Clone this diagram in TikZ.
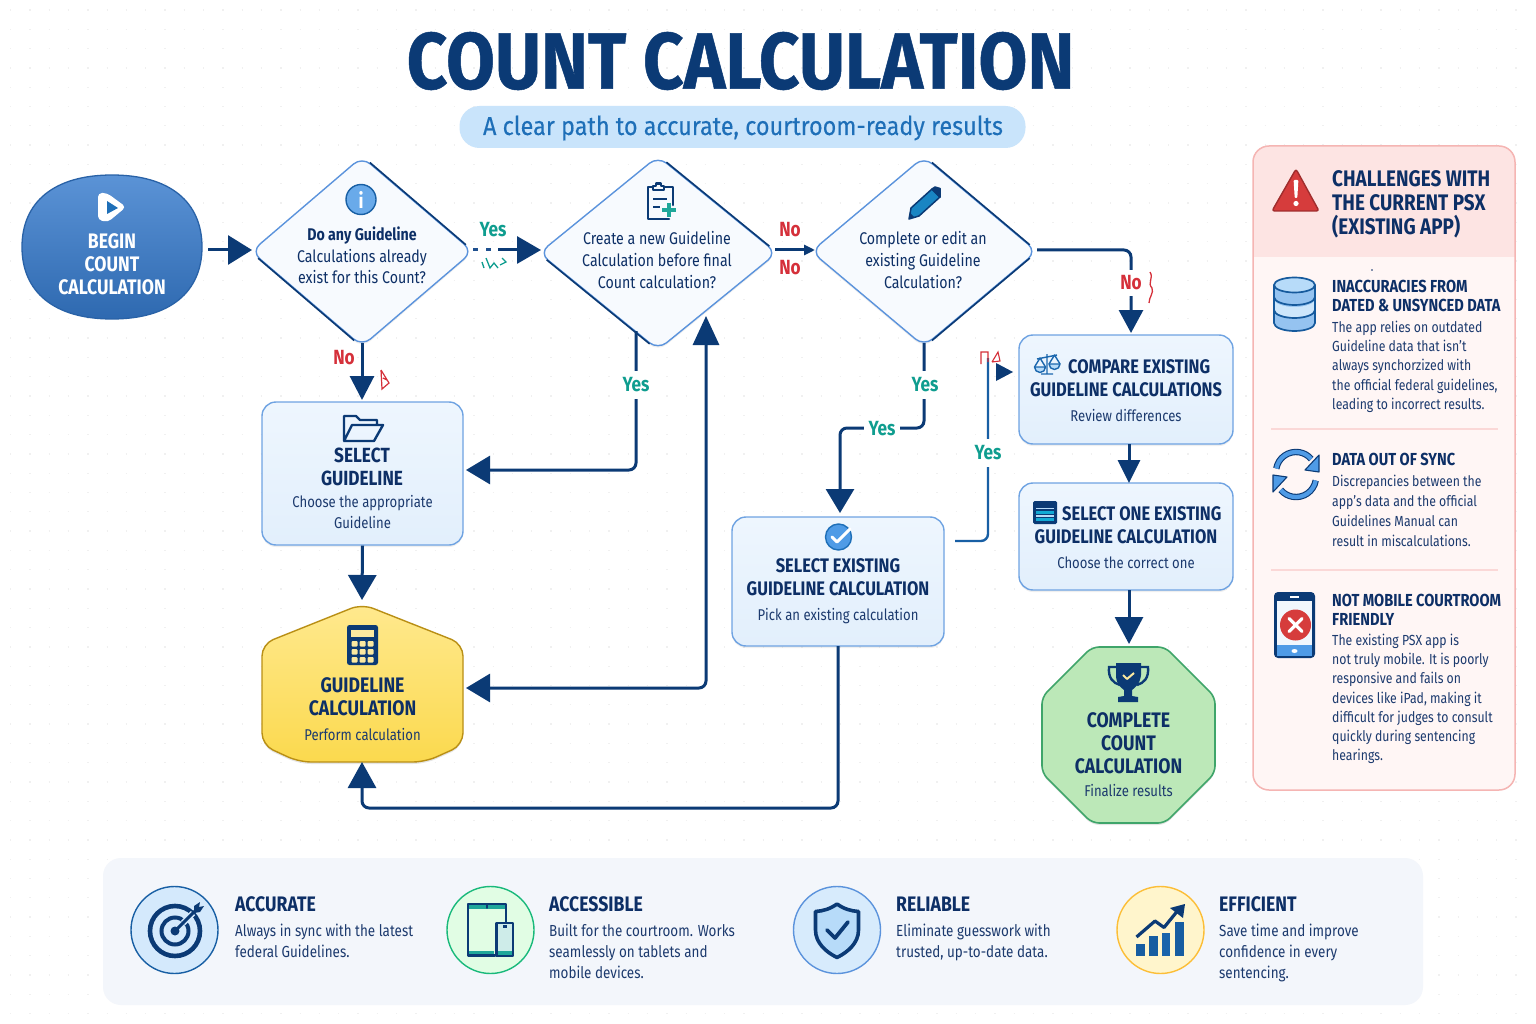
\documentclass[tikz,border=0pt]{standalone}
\usepackage{fontspec}
\setmainfont{Fira Sans}[FakeStretch=0.84]
\newfontfamily\titlefont{Fira Sans}[FakeStretch=0.885,BoldFeatures={FakeBold=0.6}]
\newfontfamily\subfont{Fira Sans}[FakeStretch=0.9,FakeBold=0.25]
\usetikzlibrary{arrows.meta,shapes.geometric,shadows,calc}
\definecolor{navy}{HTML}{0B3A75}
\definecolor{ink}{HTML}{0D2F66}
\definecolor{bodyink}{HTML}{1C3A6E}
\definecolor{midblue}{HTML}{5B93DC}
\definecolor{boxedge}{HTML}{6FA3E2}
\definecolor{boxtop}{HTML}{EEF6FE}
\definecolor{boxbot}{HTML}{E2EFFC}
\definecolor{yescol}{HTML}{0F9D8F}
\definecolor{nocol}{HTML}{D5303A}
\definecolor{pillcol}{HTML}{C9E4FB}
\definecolor{subcol}{HTML}{1E6FB8}
\definecolor{panelbg}{HTML}{FFF6F5}
\definecolor{panelhead}{HTML}{FDE4E3}
\definecolor{paneledge}{HTML}{F5B5B3}
\definecolor{alertred}{HTML}{D63C3C}
\definecolor{strip}{HTML}{F3F6FB}
\definecolor{iconblue}{HTML}{4F9BE6}
\definecolor{iconpale}{HTML}{B7DBF9}
\definecolor{teal}{HTML}{1FA79A}
\definecolor{diafill}{HTML}{F7FAFE}
\definecolor{begintop}{HTML}{5B93D6}
\definecolor{beginbot}{HTML}{2E69B0}
\definecolor{calctop}{HTML}{FFE98E}
\definecolor{calcbot}{HTML}{FBD94E}
\definecolor{calcedge}{HTML}{B98F15}
\definecolor{octfill}{HTML}{BCE8B8}
\definecolor{octedge}{HTML}{3FA56A}
\definecolor{keycol}{HTML}{FBE9A0}
\tikzset{
  conn/.style={draw=navy,line width=3pt,rounded corners=7pt},
  bighead/.style={-{Triangle[length=24pt,width=28pt]}},
  dia/.style={shape=diamond,draw=midblue,line width=1.4pt,fill=diafill,inner sep=0pt,rounded corners=11pt,drop shadow={opacity=0.12,shadow xshift=0pt,shadow yshift=-2pt}},
  dark/.style={draw=navy,line width=1.6pt},
  procbox/.style={shape=rectangle,draw=boxedge,line width=1.4pt,top color=boxtop,bottom color=boxbot,rounded corners=14pt,inner sep=0pt,drop shadow={opacity=0.12,shadow xshift=0pt,shadow yshift=-2pt}},
  bhead/.style={font=\bfseries\fontsize{19.6}{23}\selectfont,text=ink,align=center,inner sep=0pt},
  bheadl/.style={font=\bfseries\fontsize{21}{23}\selectfont,text=ink,align=center,inner sep=0pt},
  bsub/.style={font=\fontsize{15.6}{21}\selectfont,text=bodyink,align=center,inner sep=0pt},
  dtext/.style={font=\fontsize{16.9}{21.7}\selectfont,text=ink,align=center,inner sep=0pt},
  yeslab/.style={font=\bfseries\fontsize{20.5}{23}\selectfont,text=yescol,fill=white,inner xsep=5pt,inner ysep=7pt},
  nolab/.style={font=\bfseries\fontsize{20.5}{23}\selectfont,text=nocol,fill=white,inner xsep=2pt,inner ysep=6pt},
  phead/.style={font=\bfseries\fontsize{17.4}{19.7}\selectfont,text=ink,align=left,anchor=north west,inner sep=0pt},
  pbody/.style={font=\fontsize{14.6}{19.2}\selectfont,text=bodyink,align=left,anchor=north west,inner sep=0pt},
  shead/.style={font=\bfseries\fontsize{21}{23}\selectfont,text=ink,anchor=west,inner sep=0pt},
  sbody/.style={font=\fontsize{16}{21}\selectfont,text=bodyink,align=left,anchor=north west,inner sep=0pt},
  badge/.style={shape=circle,minimum size=87pt,inner sep=0pt,line width=1.4pt},
  icon/.style={draw=navy,line width=2.6pt,line join=round,line cap=round},
}
\begin{document}
\begin{tikzpicture}[x=1pt,y=-1pt]
\useasboundingbox (0,0) rectangle (1536,1024);
\fill[white] (0,0) rectangle (1536,1024);
% faint dotted ground
\foreach \j in {0,...,52}{\draw[black!6,line width=1.3pt,dash pattern=on 1.3pt off 18pt] (10,10+\j*19.3) -- (1530,10+\j*19.3);}

% title
\node[inner sep=0pt,text=navy,font=\titlefont\bfseries\fontsize{80}{84}\selectfont] (title) at (740.5,61) {COUNT CALCULATION};
\node[shape=rectangle,fill=pillcol,rounded corners=20pt,minimum width=566pt,minimum height=42pt,inner sep=0pt] (pill) at (742.5,127) {};
\node[text=subcol,inner sep=0pt,font=\subfont\fontsize{26}{30}\selectfont] (subt) at (743,128) {A clear path to accurate, courtroom-ready results};

% flow nodes
\node[shape=rectangle,minimum width=180pt,minimum height=144pt,inner sep=0pt] (begin) at (112,247) {};
\path[draw=beginbot!85!navy,line width=1.3pt,top color=begintop,bottom color=beginbot] (112,175) .. controls (170,175) and (202,202) .. (202,247) .. controls (202,292) and (170,319) .. (112,319) .. controls (54,319) and (22,292) .. (22,247) .. controls (22,202) and (54,175) .. (112,175) -- cycle;
\node[dia,minimum width=222pt,minimum height=190pt] (d1) at (362,251.5) {};
\node[dia,minimum width=238pt,minimum height=194pt] (d2) at (658,253) {};
\node[dia,minimum width=226pt,minimum height=190pt] (d3) at (924,251.5) {};
\foreach \n/\a/\b in {d1/north/east,d1/west/south,d2/north/east,d2/west/south,d3/north/east,d3/south/east}{
  \draw[dark] ($(\n.\a)!0.07!(\n.\b)$) -- ($(\n.\a)!0.93!(\n.\b)$);
}
\node[procbox,minimum width=201pt,minimum height=143pt] (selg) at (362.5,473.5) {};
\node[procbox,minimum width=212pt,minimum height=129pt] (selex) at (838,581.5) {};
\node[procbox,minimum width=214pt,minimum height=109pt] (comp) at (1126,389.5) {};
\node[procbox,minimum width=214pt,minimum height=107pt] (selone) at (1126,536.5) {};

% hexagon-like calculation node
\coordinate (calcN) at (362,600);
\coordinate (calcS) at (362,762);
\coordinate (calcE) at (466,688);
\fill[black,opacity=0.1,rounded corners=12pt,yshift=-2pt] (362,604)--(463,644)--(463,745)--(425,762)--(299,762)--(262,745)--(262,644)--cycle;
\path[draw=calcedge,line width=1.4pt,top color=calctop,bottom color=calcbot,rounded corners=12pt] (362,604)--(463,644)--(463,745)--(425,762)--(299,762)--(262,745)--(262,644)--cycle;
% octagon end node
\coordinate (octN) at (1129,644);
\fill[black,opacity=0.1,rounded corners=7pt,yshift=-2pt] (1092,647)--(1165,647)--(1215,697)--(1215,773)--(1165,823)--(1092,823)--(1042,773)--(1042,697)--cycle;
\path[draw=octedge,line width=1.6pt,fill=octfill,rounded corners=7pt] (1092,647)--(1165,647)--(1215,697)--(1215,773)--(1165,823)--(1092,823)--(1042,773)--(1042,697)--cycle;

% connectors
\coordinate (d1in) at (252,250);
\coordinate (bout) at (208,250);
\draw[conn,-{Triangle[length=24pt,width=29pt]}] (bout) -- (d1in);
\coordinate (d1r) at (473,250);
\coordinate (d1m) at (498,250);
\coordinate (d2in) at (541,250);
\draw[draw=navy!75!midblue,line width=3pt,dash pattern=on 5pt off 8pt] (d1r) -- (d1m);
\draw[conn,-{Triangle[length=24pt,width=27pt]}] (d1m) -- (d2in);
\coordinate (d1b) at (362,343);
\coordinate (selgT) at (362,400);
\draw[conn,-{Triangle[length=24pt,width=24pt]}] (d1b) -- (selgT);
\coordinate (d2r) at (775,250);
\coordinate (d3in) at (815,250);
\draw[conn,-{Triangle[length=11pt,width=10pt]}] (d2r) -- (d3in);
\coordinate (d2b) at (636,331);
\coordinate (selgR) at (466,470);
\draw[conn,bighead] (d2b) |- (selgR);
\coordinate (d2in2) at (706,316);
\draw[conn,{Triangle[length=24pt,width=28pt]}-{Triangle[length=29pt,width=26pt]}] (calcE) -| (d2in2);
\draw[conn,-{Triangle[length=25pt,width=28pt]}] (selg.south) -- (calcN);
\coordinate (selexB) at (838,646);
\coordinate (calcB) at (362,762);
\draw[conn,-{Triangle[length=26pt,width=28pt]}] (selexB) -- (838,808) -- (362,808) -- (calcB);
\coordinate (d3b) at (924,343);
\coordinate (selexT) at (840,513);
\draw[conn,bighead] (d3b) -- (924,428) -- (840,428) -- (selexT);
\coordinate (d3r) at (1037,250);
\coordinate (compT) at (1131,333);
\draw[conn,-{Triangle[length=23pt,width=24pt]}] (d3r) -- (1131,250) -- (compT);
\coordinate (selexR) at (955,541);
\coordinate (compL) at (1013,372);
\draw[draw=subcol!70!navy,line width=2.4pt,rounded corners=7pt] (selexR) -- (988,541) -- (988,358);
\draw[draw=none,fill=navy] (compL) -- (996,363) -- (996,381) -- cycle;
\coordinate (compB) at (1129,444);
\coordinate (seloneT) at (1129,483);
\draw[conn,-{Triangle[length=23pt,width=22pt]}] (compB) -- (seloneT);
\coordinate (seloneB) at (1129,590);
\draw[conn,-{Triangle[length=27pt,width=28pt]}] (seloneB) -- (octN);

% connector labels
\node[yeslab,fill=none] (y1) at (493,230) {Yes};
\node[nolab] (n1) at (344,358) {No};
\node[nolab,fill=none] (n2) at (790,230) {No};
\node[nolab,fill=none] (n3) at (790,268) {No};
\node[yeslab] (y2) at (636,385) {Yes};
\node[yeslab] (y3) at (925,385) {Yes};
\node[yeslab,inner ysep=2pt] (y4) at (882,429) {Yes};
\node[yeslab] (y5) at (988,453) {Yes};
\node[nolab] (n4) at (1131,283) {No};

% stray marks printed beside some labels
\draw[yescol,line width=1.3pt] (482,262)--(484,268) (486,258)--(490,268)--(494,263)--(498,268) (500,265)--(506,262)--(502,258);
\draw[nocol,line width=1.2pt] (381,370)--(389,383)--(382,389)--(381,370) (383,378)--(387,380);
\draw[nocol,line width=1.3pt] (1150,272) .. controls (1154,278) and (1147,283) .. (1152,288) .. controls (1154,293) and (1149,297) .. (1149,303);
\draw[nocol,line width=1.1pt] (981,364)--(981,352)--(988,352)--(988,362) (992,362)--(998,352)--(1000,361)--(992,362);

% begin
\path[fill=white,rounded corners=4pt] (98,193)--(107,193)--(126,207)--(108,222)--(98,220)--cycle;
\fill[subcol] (107,201)--(118,208)--(107,214)--cycle;
\node[bheadl,text=white] (tbegin) at (112,264) {BEGIN\\COUNT\\CALCULATION};

% d1
\node[shape=circle,draw=subcol!70!navy,line width=1.4pt,fill=iconblue!85!white,minimum size=30pt,inner sep=0pt,text=white,font=\bfseries\fontsize{21}{21}\selectfont] (infoic) at (361,199.5) {i};
\node[dtext] (td1) at (362,255.5) {\textbf{Do any Guideline}\\Calculations already\\exist for this Count?};
% d2
\draw[icon] (664,187)--(673,187)--(673,205) (669,219)--(648,219)--(648,187)--(653,187);
\draw[icon] (653,190)--(653,186)--(656,186)--(656,183.5)--(661,183.5)--(661,186)--(664,186)--(664,190)--cycle;
\draw[navy,line width=2.4pt] (653,199)--(667,199) (653,207)--(660,207);
\draw[teal,line width=3.6pt] (669,203)--(669,217) (662,210)--(676,210);
\node[dtext] (td2) at (657,260) {Create a new Guideline\\Calculation before final\\Count calculation?};
% d3
\draw[navy,line width=1.5pt,fill=subcol!85!cyan,line join=round] (909,219)--(911,208)--(932,189)--(940,197)--(919,216)--cycle;
\draw[navy,line width=1.5pt,fill=navy,line join=round] (932,189) -- (935,187) -- (940,188.5) -- (940,194) -- (940,197) --cycle;
\fill[navy] (909,219)--(910,213)--(914,217)--cycle;
\node[dtext] (td3) at (923,260) {Complete or edit an\\existing Guideline\\Calculation?};
% selg
\draw[icon,line width=2.4pt] (344,441)--(344,416)--(356,416)--(360,420)--(377,420)--(377,425) (344,441)--(374,441)--(383,425)--(352,425)--(344,441);
\node[bhead,font=\bfseries\fontsize{20.5}{23}\selectfont] (tselg) at (362,467) {SELECT\\GUIDELINE};
\node[bsub] (sselg) at (362.5,512.5) {Choose the appropriate\\Guideline};
% calc
\fill[navy,rounded corners=2.5pt] (347,625) rectangle (378,665);
\fill[keycol] (351,630) rectangle (374,636.5);
\foreach \xx in {351.5,359.5,367.5}\foreach \yy in {641,649,657}{\fill[keycol,rounded corners=1pt] (\xx,\yy) rectangle +(6,5.5);}
\node[bheadl] (tcalc) at (362.5,696.5) {GUIDELINE\\CALCULATION};
\node[bsub] (scalc) at (362.5,735) {Perform calculation};
% selex
\node[shape=circle,draw=subcol,line width=1.4pt,fill=iconblue,minimum size=26pt,inner sep=0pt] (okic) at (838.5,537) {};
\draw[white,line width=3pt,line cap=round,line join=round] (832,537)--(837,542)--(850,529);
\node[bhead] (tselex) at (838,577.5) {SELECT EXISTING\\GUIDELINE CALCULATION};
\node[bsub] (sselex) at (838,616) {Pick an existing calculation};
% compare
\begin{scope}[draw=subcol!85!navy,line width=1.4pt,fill=iconpale,line join=round]
\draw (1047,354)--(1047,373) (1037,359)--(1057,355) (1041,374)--(1053,374);
\filldraw (1034.5,367) arc[start angle=180,end angle=0,radius=5.5] --cycle;
\filldraw (1049,364) arc[start angle=180,end angle=0,radius=5.5] --cycle;
\draw (1034.5,367)--(1040,358)--(1045.5,367) (1049,364)--(1054.5,355)--(1060,364);
\end{scope}
\node[bhead,anchor=west] (tcomp1) at (1068,367) {COMPARE EXISTING};
\node[bhead] (tcomp2) at (1126,390) {GUIDELINE CALCULATIONS};
\node[bsub] (scomp) at (1126,416) {Review differences};
% select one
\fill[navy,rounded corners=1.5pt] (1033,501) rectangle (1057,524);
\fill[iconpale] (1036,507.5) rectangle (1054,509);
\fill[subcol!60!cyan] (1036,511) rectangle (1054,514);
\fill[iconpale] (1036,515) rectangle (1054,516.5);
\fill[subcol!60!cyan] (1036,518) rectangle (1054,521);
\node[bhead,anchor=west] (tone1) at (1062,514) {SELECT ONE EXISTING};
\node[bhead] (tone2) at (1126,537) {GUIDELINE CALCULATION};
\node[bsub] (sone) at (1126,563) {Choose the correct one};
% trophy
\draw[navy,line width=2.4pt] (1116,667)--(1109,667) .. controls (1108,678) and (1113,683) .. (1120,685);
\draw[navy,line width=2.4pt] (1141,667)--(1148,667) .. controls (1149,678) and (1144,683) .. (1137,685);
\fill[navy] (1116,663) -- (1141,663) -- (1141,675) .. controls (1140,685) and (1134,688) .. (1132,690) -- (1132,696) -- (1138,697) -- (1138,702) -- (1118,702) -- (1118,697) -- (1124,696) -- (1124,690) .. controls (1122,688) and (1116,685) .. (1116,675) -- cycle;
\draw[keycol,line width=2pt,line join=round] (1123,675)--(1127,679)--(1134,673);
\node[bheadl] (tdone) at (1128.5,743) {COMPLETE\\COUNT\\CALCULATION};
\node[bsub] (sdone) at (1128.5,791) {Finalize results};

% challenges panel
\node[shape=rectangle,fill=panelbg,rounded corners=16pt,minimum width=262pt,minimum height=644pt,inner sep=0pt] (panel) at (1384,468) {};
\begin{scope}
\clip[rounded corners=16pt] (1253,146) rectangle (1515,790);
\fill[panelhead] (1253,146) rectangle (1515,257);
\end{scope}
\draw[draw=paneledge,line width=1.5pt,rounded corners=16pt] (1253,146) rectangle (1515,790);
\draw[draw=panelhead!75!paneledge,line width=1.2pt] (1271,429) -- (1498,429) (1271,570) -- (1498,570);
\draw[fill=alertred,draw=alertred!75!black,line width=1.4pt,line join=round,rounded corners=2.5pt] (1296,169)--(1319,211)--(1272,211)--cycle;
\fill[white,rounded corners=1pt] (1293.6,180)--(1298.4,180)--(1297.3,198)--(1294.7,198)--cycle;
\fill[white] (1296,203.5) circle (2.6);
\node[font=\bfseries\fontsize{22.5}{24}\selectfont,text=ink,align=left,anchor=north west,inner sep=0pt] (thead) at (1332,170) {CHALLENGES WITH\\THE CURRENT PSX\\(EXISTING APP)};
\fill[ink] (1372,270) circle (0.8);
% database icon
\begin{scope}[draw=subcol!60!navy,line width=1.7pt]
\fill[iconblue!60!white] (1274,285) -- (1274,323) arc[start angle=180,end angle=0,x radius=20.5,y radius=8] -- (1315,285) -- cycle;
\fill[iconpale!70!white] (1274,299) arc[start angle=180,end angle=0,x radius=20.5,y radius=8] -- (1315,309) arc[start angle=0,end angle=180,x radius=20.5,y radius=8] -- cycle;
\draw (1274,285) -- (1274,323) arc[start angle=180,end angle=0,x radius=20.5,y radius=8] -- (1315,285);
\draw (1274,297) arc[start angle=180,end angle=0,x radius=20.5,y radius=8];
\draw (1274,310) arc[start angle=180,end angle=0,x radius=20.5,y radius=8];
\draw[fill=iconpale] (1294.5,285) ellipse (20.5 and 7.5);
\end{scope}
\node[phead] (p1h) at (1332,279.5) {INACCURACIES FROM\\DATED \& UNSYNCED DATA};
\node[pbody] (p1b) at (1332,321) {The app relies on outdated\\Guideline data that isn't\\always synchorzized with\\the official federal guidelines,\\leading to incorrect results.};
% sync icon
\begin{scope}[line join=round]
\draw[navy,line width=6.4pt] (1276.3,468.5) arc[start angle=190,end angle=320,radius=20];
\draw[iconblue,line width=4.2pt] (1276.3,468.5) arc[start angle=190,end angle=320,radius=20];
\draw[navy,line width=6.4pt] (1315.7,480.5) arc[start angle=10,end angle=140,radius=20];
\draw[iconblue,line width=4.2pt] (1315.7,480.5) arc[start angle=10,end angle=140,radius=20];
\draw[fill=iconblue,draw=navy,line width=1.1pt] (1319,455)--(1319,472)--(1305,470)--cycle;
\draw[fill=iconblue,draw=navy,line width=1.1pt] (1273,492)--(1273,475)--(1287,477)--cycle;
\end{scope}
\node[phead] (p2h) at (1332,452.5) {DATA OUT OF SYNC};
\node[pbody,font=\fontsize{14.6}{20}\selectfont] (p2b) at (1332,475) {Discrepancies between the\\app's data and the official\\Guidelines Manual can\\result in miscalculations.};
% phone icon
\fill[navy,rounded corners=4pt] (1274,592) rectangle (1315,658);
\fill[white!92!iconblue] (1277,601) rectangle (1312,645);
\fill[iconblue] (1277,645) rectangle (1312,655.5);
\fill[white] (1290,595.5) rectangle (1299,597.5);
\fill[white] (1294.5,651) ellipse (3 and 2);
\node[shape=circle,fill=alertred,minimum size=31pt,inner sep=0pt] (xic) at (1295.5,625) {};
\draw[white,line width=3.2pt,line cap=round] (1289,618.5)--(1302,631.5) (1302,618.5)--(1289,631.5);
\node[phead] (p3h) at (1332,593.5) {NOT MOBILE COURTROOM\\FRIENDLY};
\node[pbody] (p3b) at (1332,634) {The existing PSX app is\\not truly mobile. It is poorly\\responsive and fails on\\devices like iPad, making it\\difficult for judges to consult\\quickly during sentencing\\hearings.};

% benefits strip
\node[shape=rectangle,fill=strip,rounded corners=18pt,minimum width=1320pt,minimum height=147pt,inner sep=0pt] (strip) at (763,931.5) {};
\node[badge,draw=subcol!70!navy,fill=pillcol!80!white] (bg1) at (174.5,930) {};
\node[badge,draw=teal!80!green,fill=teal!20!green!12!white] (bg2) at (490.5,930) {};
\node[badge,draw=midblue,fill=pillcol!75!white] (bg3) at (837,930) {};
\node[badge,draw=calcbot!70!orange,fill=calctop!45!white] (bg4) at (1160.5,930) {};
% target
\draw[navy,line width=4.6pt] (175,931) circle (25);
\draw[navy,line width=4pt] (175,931) circle (13.5);
\fill[navy] (175,931) circle (4.5);
\draw[pillcol!80!white,line width=6pt] (183,923)--(193,913);
\draw[navy,line width=3pt] (175,931)--(198,908);
\fill[navy] (194,906)--(200,902)--(199,907)--(204,906)--(200,912)--(194,913)--cycle;
% devices
\fill[teal] (469,905) rectangle (505,908.5);
\fill[teal] (469,951) rectangle (494,955);
\draw[icon] (495,955.5)--(468,955.5)--(468,904)--(506,904)--(506,922);
\draw[icon,line width=1.8pt] (487,904)--(487,908);
\draw[icon,fill=teal!22!white] (496.5,923)--(513,923)--(513,956)--(496.5,956)--cycle;
\fill[teal] (498,950.5) rectangle (511.5,954.5);
\fill[navy] (503,925) rectangle (506.5,928);
% shield
\draw[navy,line width=3.6pt,fill=iconpale,line join=round] (837,904) .. controls (830,909) and (823,911) .. (815.5,911.5) -- (815.5,930) .. controls (815.5,943) and (826,952) .. (837,957.5) .. controls (848,952) and (858.5,943) .. (858.5,930) -- (858.5,911.5) .. controls (851,911) and (844,909) .. (837,904) -- cycle;
\draw[navy,line width=3.8pt,line cap=round,line join=round] (827,930)--(835,938)--(848,922);
% chart
\fill[subcol!65!navy] (1136,943.5) rectangle (1145,956);
\fill[subcol!65!navy] (1149,936) rectangle (1157.5,956);
\fill[subcol!80!navy] (1161.5,932.5) rectangle (1170,956);
\fill[subcol!65!navy] (1175,922) rectangle (1184,956);
\draw[navy,line width=3.2pt,line join=round] (1136.5,937) -- (1155,921) -- (1164,927.5) -- (1179,909);
\fill[navy] (1185,904) -- (1183,918) -- (1170,908) -- cycle;

\node[shead] (h1) at (235,904.5) {ACCURATE};
\node[sbody] (b1) at (235,923.5) {Always in sync with the latest\\federal Guidelines.};
\node[shead] (h2) at (549,904.5) {ACCESSIBLE};
\node[sbody] (b2) at (549,923.5) {Built for the courtroom. Works\\seamlessly on tablets and\\mobile devices.};
\node[shead] (h3) at (896,904.5) {RELIABLE};
\node[sbody] (b3) at (896,923.5) {Eliminate guesswork with\\trusted, up-to-date data.};
\node[shead] (h4) at (1219,904.5) {EFFICIENT};
\node[sbody] (b4) at (1219,923.5) {Save time and improve\\confidence in every\\sentencing.};
\end{tikzpicture}
\end{document}
